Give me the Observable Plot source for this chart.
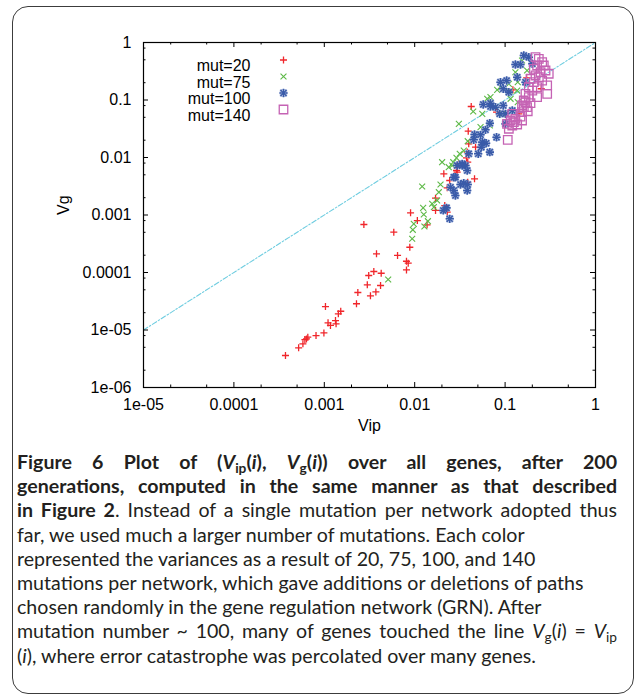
<!DOCTYPE html>
<html><head><meta charset="utf-8">
<script src="https://cdn.jsdelivr.net/npm/d3@7"></script>
<script src="https://cdn.jsdelivr.net/npm/@observablehq/plot@0.6"></script>
<style>
body{margin:0;background:#fff;width:636px;height:696px;position:relative;overflow:hidden;}
#box{position:absolute;left:12px;top:6px;width:622px;height:688px;border:1.5px solid #3c3c3c;border-radius:16px;box-sizing:border-box;}
#chart{position:absolute;left:0;top:0;}
#caption{position:absolute;left:17px;top:450px;width:600px;font-family:Lato,"Open Sans",sans-serif;font-size:19.6px;line-height:24.2px;color:#231f20;}
#caption div{white-space:nowrap;}
#caption .j{text-align:justify;text-align-last:justify;white-space:normal;}
#caption sub{font-size:0.7em;vertical-align:-0.3em;line-height:0;}
</style>
</head><body>
<div id="box"></div>
<div id="chart"></div>
<div id="caption">
<div class="j"><b>Figure 6 Plot of (<i>V</i><sub>ip</sub>(<i>i</i>), <i>V</i><sub>g</sub>(<i>i</i>)) over all genes, after 200</b></div>
<div class="j"><b>generations, computed in the same manner as that described</b></div>
<div class="j"><b>in Figure 2</b>. Instead of a single mutation per network adopted thus</div>
<div>far, we used much a larger number of mutations. Each color</div>
<div>represented the variances as a result of 20, 75, 100, and 140</div>
<div>mutations per network, which gave additions or deletions of paths</div>
<div>chosen randomly in the gene regulation network (GRN). After</div>
<div class="j">mutation number ~ 100, many of genes touched the line <i>V</i><sub>g</sub>(<i>i</i>) = <i>V</i><sub>ip</sub></div>
<div>(<i>i</i>), where error catastrophe was percolated over many genes.</div>
</div>
<script>
// ---- data: [Vip, Vg] pairs ----
const mut20 = [
 [3.72e-4,3.6e-6],[5.2e-4,4.9e-6],[5.8e-4,5.75e-6],[6.1e-4,6.8e-6],[6.35e-4,7.0e-6],[6.57e-4,7.5e-6],
 [8.1e-4,8.0e-6],[9.9e-4,8.9e-6],[1.10e-3,1.33e-5],[1.17e-3,1.2e-5],[1.33e-3,1.46e-5],[1.35e-3,1.28e-5],
 [1.43e-3,1.91e-5],[1.52e-3,2.12e-5],[1.03e-3,2.56e-5],[2.27e-3,2.86e-5],[2.35e-3,4.49e-5],[3.24e-3,3.93e-5],
 [3.72e-3,4.6e-5],[2.99e-3,6.1e-5],[4.19e-3,5.94e-5],[3.10e-3,8.87e-5],[3.53e-3,1.04e-4],[4.26e-3,9.7e-5],
 [3.78e-3,2.11e-4],[6.46e-3,1.98e-4],[8.11e-3,1.57e-4],[8.48e-3,1.45e-4],[8.11e-3,1.11e-4],[8.83e-3,2.75e-4],
 [5.87e-3,5.02e-4],[2.74e-3,6.84e-4],[9.0e-3,1.09e-3],[1.07e-2,8.0e-4],[1.37e-2,6.76e-4],[1.70e-2,1.20e-3],
 [1.70e-2,1.96e-3],[2.15e-2,1.46e-3],[2.29e-2,1.12e-3],[2.10e-2,5.21e-3],[2.44e-2,3.98e-3],[2.29e-2,2.97e-3],
 [2.90e-2,5.94e-3],[3.86e-2,3.72e-3],[4.59e-2,4.26e-3],[3.86e-2,8.28e-3],[4.22e-2,7.71e-2],[8.04e-2,6.14e-2],
 [3.91e-2,2.87e-2],[3.96e-2,1.73e-2],[4.71e-2,1.51e-2],[3.81e-2,1.24e-2],[3.74e-2,9.88e-3],[3.08e-2,7.77e-3],
 [2.95e-2,5.55e-3],[0.122,0.150],[0.173,0.243],[0.251,0.157],[0.142,5.75e-2]
];
const mut75 = [
 [5.09e-3,7.55e-5],[1.21e-2,3.13e-3],[1.93e-2,3.39e-3],[1.85e-2,2.49e-3],[1.24e-2,1.33e-3],[1.26e-2,1.02e-3],
 [9.77e-3,7.03e-4],[1.40e-2,7.8e-4],[1.28e-2,6.31e-4],[9.53e-3,5.53e-4],[9.38e-3,3.86e-4],[1.56e-2,1.57e-3],
 [1.63e-2,1.37e-3],[1.77e-2,1.79e-3],[2.38e-2,6.78e-3],[2.60e-2,7.26e-3],[2.01e-2,8.28e-3],[3.08e-2,3.85e-2],
 [4.44e-2,6.31e-2],[5.59e-2,5.75e-2],[5.35e-2,3.37e-2],[6.78e-2,3.6e-2],[3.86e-2,1.92e-2],[3.49e-2,1.32e-2],
 [3.15e-2,1.16e-2],[2.90e-2,9.88e-3],[2.67e-2,8.28e-3],[9.29e-2,5.75e-2],[0.138,9.16e-2],[0.130,0.304],
 [0.136,0.146],[0.175,0.326],[6.89e-2,0.112],[6.34e-2,0.105],[0.115,0.105],[7.83e-2,7.5e-2],[0.154,0.486],
 [0.110,0.191],[8.17e-2,0.150],[8.89e-2,0.167],[0.138,0.204],[0.113,0.142]
];
const mut100 = [
 [2.49e-2,3.04e-3],[2.82e-2,2.18e-3],[2.71e-2,2.67e-3],[2.44e-2,8.59e-4],[2.25e-2,1.33e-3],[2.07e-2,1.20e-3],
 [2.71e-2,4.54e-3],[2.95e-2,7.26e-3],[3.35e-2,7.26e-3],[3.81e-2,5.94e-3],[3.49e-2,3.57e-3],[3.86e-2,3.39e-3],
 [3.21e-2,3.39e-3],[3.81e-2,2.67e-3],[5.73e-2,8.35e-2],[6.89e-2,7.71e-2],[7.83e-2,7.5e-2],[9.53e-2,8.02e-2],
 [8.73e-2,5.75e-2],[6.78e-2,3.95e-2],[6.07e-2,3.03e-2],[4.59e-2,2.51e-2],[5.35e-2,2.48e-2],[4.50e-2,2.03e-2],
 [5.59e-2,1.85e-2],[6.17e-2,1.77e-2],[5.45e-2,1.51e-2],[8.04e-2,2.25e-2],[6.78e-2,1.24e-2],[5.04e-2,1.16e-2],
 [3.96e-2,1.16e-2],[3.35e-2,7.77e-3],[3.65e-2,7.26e-3],[2.82e-2,4.54e-3],[0.101,3.85e-2],[0.120,6.57e-2],
 [0.161,0.594],[0.183,0.555],[0.130,0.414],[0.148,0.414],[0.200,0.426],[0.136,0.249],[8.89e-2,0.204],
 [0.104,0.218],[0.168,0.204],[9.53e-2,0.157],[0.110,0.137],[6.89e-2,8.8e-2],[0.101,5.75e-2]
];
const mut140 = [
 [0.168,9.16e-2],[0.191,8.8e-2],[0.161,7.5e-2],[0.178,6.38e-2],[0.154,6.14e-2],[0.148,5.16e-2],
 [0.130,4.71e-2],[0.115,4.4e-2],[0.105,3.85e-2],[0.136,3.75e-2],[0.110,3.16e-2],[0.107,2.03e-2],
 [0.120,5.75e-2],[0.217,0.555],[0.236,0.521],[0.257,0.454],[0.268,0.398],[0.226,0.398],[0.208,0.349],
 [0.280,0.326],[0.304,0.286],[0.247,0.304],[0.217,0.267],[0.236,0.249],[0.191,0.234],[0.208,0.204],
 [0.257,0.218],[0.292,0.179],[0.183,0.167],[0.200,0.146],[0.226,0.167],[0.168,0.128],[0.183,0.112],
 [0.161,9.8e-2],[0.154,8.02e-2],[0.175,7.5e-2],[0.154,4.4e-2],[0.125,4.11e-2],[0.292,0.128],
 [0.226,0.112],[0.120,3.6e-2]
];
const seriesNames = ["mut=20","mut=75","mut=100","mut=140"];
const diagonal = [1e-5, 1];
const xTicks = [1e-5,1e-4,1e-3,1e-2,1e-1,1];
const xTickLabels = ["1e-05","0.0001","0.001","0.01","0.1","1"];
const yTicks = [1e-6,1e-5,1e-4,1e-3,1e-2,1e-1,1];
const yTickLabels = ["1e-06","1e-05","0.0001","0.001","0.01","0.1","1"];
const xLabel = "Vip", yLabel = "Vg";

// ---- layout / style ----
const W = 636, H = 450, mL = 143, mR = 41, mT = 42, mB = 63;
const fw = W - mL - mR, fh = H - mT - mB;
const colors = ["#f0262b", "#5db947", "#3a5ba9", "#c563b4"];
const minorX = [], minorY = [];
for (const t of xTicks.slice(0, -1)) for (const m of [2, 5]) minorX.push(t * m);
for (const t of yTicks.slice(0, -1)) for (const m of [2, 5, 8]) minorY.push(t * m);

const styles = [
  [{symbol: "plus", r: 2.4, stroke: colors[0], strokeWidth: 1.3}],
  [{symbol: "times", r: 2.8, stroke: colors[1], strokeWidth: 1.1}],
  [{symbol: "square", r: 3.6, stroke: "#9fb0da", strokeWidth: 1, fill: "none"},
   {symbol: "plus", r: 2.8, stroke: colors[2], strokeWidth: 1.6},
   {symbol: "times", r: 2.8, stroke: colors[2], strokeWidth: 1.6}],
  [{symbol: "square", r: 4.8, stroke: colors[3], strokeWidth: 1.3, fill: "none"}]
];
const seriesData = [mut20, mut75, mut100, mut140];

const marks = [];
marks.push(Plot.line(diagonal, {x: d => d, y: d => d, stroke: "#6fcde0", strokeWidth: 1.1, strokeDasharray: "5,2,1.5,2"}));
seriesData.forEach((data, i) => {
  for (const s of styles[i]) marks.push(Plot.dot(data, {x: d => d[0], y: d => d[1], ...s}));
});
// legend
seriesNames.forEach((name, i) => {
  marks.push(Plot.text([name], {text: d => d, frameAnchor: "top-left", dx: 107, dy: 17.5 + i * 16.5, textAnchor: "end", fill: "#000"}));
  for (const s of styles[i]) marks.push(Plot.dot([name], {frameAnchor: "top-left", dx: 140, dy: 17.5 + i * 16.5, ...s}));
});
marks.push(
  Plot.frame({stroke: "#000", strokeWidth: 1.2}),
  Plot.ruleX(xTicks, {x: d => d, insetTop: fh - 5, stroke: "#000"}),
  Plot.ruleX(xTicks, {x: d => d, insetBottom: fh - 5, stroke: "#000"}),
  Plot.ruleX(minorX, {x: d => d, insetTop: fh - 2.5, stroke: "#000"}),
  Plot.ruleX(minorX, {x: d => d, insetBottom: fh - 2.5, stroke: "#000"}),
  Plot.ruleY(yTicks, {y: d => d, insetRight: fw - 5, stroke: "#000"}),
  Plot.ruleY(yTicks, {y: d => d, insetLeft: fw - 5, stroke: "#000"}),
  Plot.ruleY(minorY, {y: d => d, insetRight: fw - 2.5, stroke: "#000"}),
  Plot.ruleY(minorY, {y: d => d, insetLeft: fw - 2.5, stroke: "#000"}),
  Plot.axisX({ticks: xTicks, tickSize: 0, tickPadding: 11, tickFormat: d => xTickLabels[xTicks.indexOf(d)], label: null, fill: "#000"}),
  Plot.axisY({ticks: yTicks, tickSize: 0, tickPadding: 12, tickFormat: d => yTickLabels[yTicks.indexOf(d)], label: null, fill: "#000"}),
  Plot.text([xLabel], {text: d => d, frameAnchor: "bottom", dy: 43, fill: "#000"}),
  Plot.text([yLabel], {text: d => d, frameAnchor: "left", dx: -80, rotate: -90, fill: "#000"})
);

const chart = Plot.plot({
  width: W, height: H,
  marginLeft: mL, marginRight: mR, marginTop: mT, marginBottom: mB,
  style: {fontFamily: "'Liberation Sans', Arial, sans-serif", fontSize: "16px", background: "transparent", color: "#000"},
  x: {type: "log", domain: [1e-5, 1]},
  y: {type: "log", domain: [1e-6, 1]},
  marks
});
document.getElementById("chart").appendChild(chart);
</script>
</body></html>
